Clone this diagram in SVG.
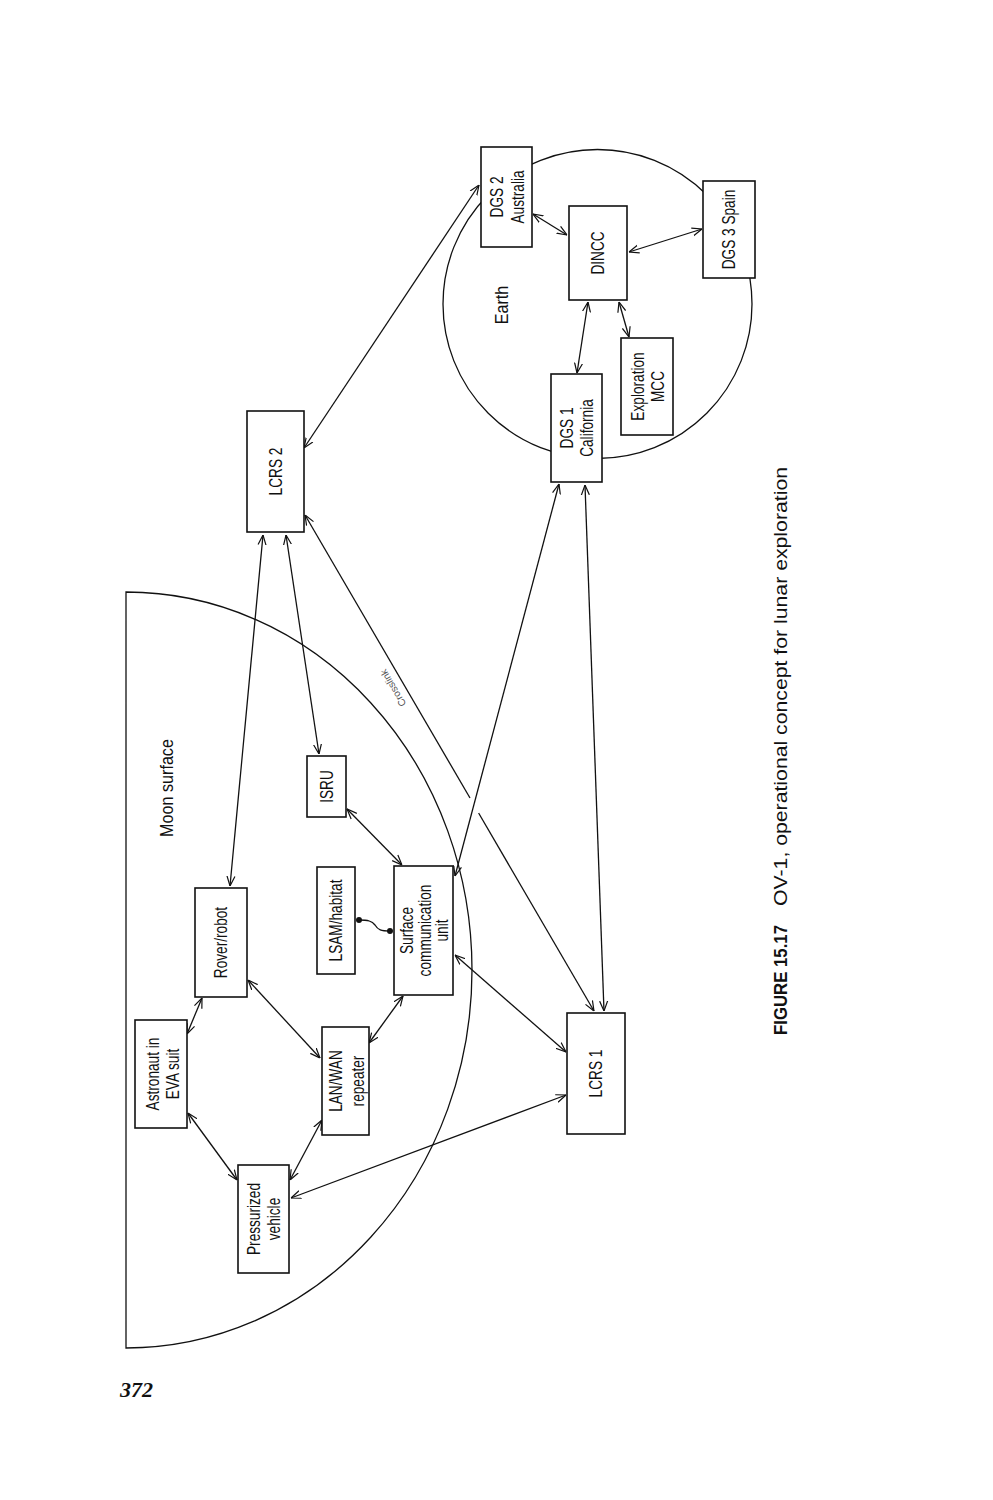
<svg xmlns="http://www.w3.org/2000/svg" width="993" height="1500" viewBox="0 0 993 1500">
<style>
.bx{fill:#fff;stroke:#111;stroke-width:1.6}
.ln{fill:none;stroke:#111;stroke-width:1.3}
.lb{font-family:"Liberation Sans",Arial,sans-serif;font-size:17.5px;fill:#111;text-anchor:middle;dominant-baseline:central}
.big{font-family:"Liberation Sans",Arial,sans-serif;font-size:19px;fill:#111;text-anchor:middle;dominant-baseline:central}
.cap{font-family:"Liberation Sans",Arial,sans-serif;font-size:19px;fill:#111}
.xl{font-family:"Liberation Sans",Arial,sans-serif;font-size:10px;fill:#555;stroke:none;text-anchor:middle;dominant-baseline:central}
</style>
<defs>
<marker id="ah" viewBox="0 0 10 10" refX="10" refY="5" markerWidth="10" markerHeight="10" markerUnits="userSpaceOnUse" orient="auto-start-reverse">
<path d="M0,1 L10,5 L0,9" fill="none" stroke="#111" stroke-width="1.2"/>
</marker>
</defs>
<rect width="993" height="1500" fill="#fff"/>

<g id="regions">
<circle cx="597.5" cy="304" r="154.5" class="ln"/>
<path d="M126,592 A346,378 0 0 1 126,1348 Z" class="ln" stroke-width="1.5"/>
<text class="big" transform="translate(502,305) rotate(-90) scale(0.85,1)">Earth</text>
<text class="big" transform="translate(167,788) rotate(-90) scale(0.85,1)">Moon surface</text>
</g>

<g id="connectors">
<g class="ln">
<path d="M479,185 L304,448" marker-start="url(#ah)" marker-end="url(#ah)"/>
<path d="M263,535 L230,886" marker-start="url(#ah)" marker-end="url(#ah)"/>
<path d="M286,535 L319,754" marker-start="url(#ah)" marker-end="url(#ah)"/>
<path d="M305,515 L470,798" marker-start="url(#ah)"/>
<path d="M478.6,813 L594,1011" marker-end="url(#ah)"/>
<path d="M585,485 L604,1011" marker-start="url(#ah)" marker-end="url(#ah)"/>
<path d="M559,484 L455,876" marker-start="url(#ah)" marker-end="url(#ah)"/>
<path d="M455,955 L566,1052" marker-start="url(#ah)" marker-end="url(#ah)"/>
<path d="M566,1095 L291,1198" marker-start="url(#ah)" marker-end="url(#ah)"/>
<path d="M347,809 L402,865" marker-start="url(#ah)" marker-end="url(#ah)"/>
<path d="M359,920 C368,920 372,921 375,925 C378,930 381,931 390,931"/>
<path d="M202,998 L187,1034" marker-start="url(#ah)" marker-end="url(#ah)"/>
<path d="M248,980 L320,1058" marker-start="url(#ah)" marker-end="url(#ah)"/>
<path d="M403,996 L369,1043" marker-start="url(#ah)" marker-end="url(#ah)"/>
<path d="M188,1113 L237,1180" marker-start="url(#ah)" marker-end="url(#ah)"/>
<path d="M322,1120 L290,1180" marker-start="url(#ah)" marker-end="url(#ah)"/>
<path d="M533,214 L567,235" marker-start="url(#ah)" marker-end="url(#ah)"/>
<path d="M629,252 L702,229" marker-start="url(#ah)" marker-end="url(#ah)"/>
<path d="M588,302 L577,373" marker-start="url(#ah)" marker-end="url(#ah)"/>
<path d="M619,302 L629,337" marker-start="url(#ah)" marker-end="url(#ah)"/>
</g>
<circle cx="359" cy="920" r="3" fill="#111"/>
<circle cx="390" cy="931" r="3" fill="#111"/>
<text class="xl" transform="translate(393,688) rotate(-120.3)">Crosslink</text>
</g>

<g id="dgs2">
<rect class="bx" x="481" y="147" width="51" height="100"/>
<text class="lb" transform="translate(507,197) rotate(-90) scale(0.78,1)"><tspan x="0" y="-10.5">DGS 2</tspan><tspan x="0" y="10.5">Australia</tspan></text>
</g>
<g id="dincc">
<rect class="bx" x="569" y="206" width="58" height="94"/>
<text class="lb" transform="translate(598,253) rotate(-90) scale(0.78,1)">DINCC</text>
</g>
<g id="dgs3">
<rect class="bx" x="703" y="181" width="52" height="97"/>
<text class="lb" transform="translate(729,229.5) rotate(-90) scale(0.78,1)">DGS 3 Spain</text>
</g>
<g id="mcc">
<rect class="bx" x="621" y="338" width="52" height="97"/>
<text class="lb" transform="translate(647,386.5) rotate(-90) scale(0.78,1)"><tspan x="0" y="-10">Exploration</tspan><tspan x="0" y="10">MCC</tspan></text>
</g>
<g id="dgs1">
<rect class="bx" x="551" y="374" width="51" height="108"/>
<text class="lb" transform="translate(576.5,428) rotate(-90) scale(0.78,1)"><tspan x="0" y="-10">DGS 1</tspan><tspan x="0" y="10">California</tspan></text>
</g>
<g id="lcrs2">
<rect class="bx" x="247" y="411" width="57" height="121"/>
<text class="lb" transform="translate(275.5,471.5) rotate(-90) scale(0.78,1)">LCRS 2</text>
</g>
<g id="isru">
<rect class="bx" x="307" y="756" width="39" height="61"/>
<text class="lb" transform="translate(326.5,786.5) rotate(-90) scale(0.78,1)">ISRU</text>
</g>
<g id="rover">
<rect class="bx" x="195" y="888" width="52" height="109"/>
<text class="lb" transform="translate(221,942.5) rotate(-90) scale(0.78,1)">Rover/robot</text>
</g>
<g id="lsam">
<rect class="bx" x="317" y="867" width="38" height="107"/>
<text class="lb" transform="translate(336,920.5) rotate(-90) scale(0.78,1)">LSAM/habitat</text>
</g>
<g id="scu">
<rect class="bx" x="394" y="866" width="59" height="129"/>
<text class="lb" transform="translate(424,930.5) rotate(-90) scale(0.78,1)"><tspan x="0" y="-17.5">Surface</tspan><tspan x="0" y="0">communication</tspan><tspan x="0" y="17.5">unit</tspan></text>
</g>
<g id="astronaut">
<rect class="bx" x="135" y="1020" width="52" height="108"/>
<text class="lb" transform="translate(162,1074) rotate(-90) scale(0.78,1)"><tspan x="0" y="-10">Astronaut in</tspan><tspan x="0" y="10">EVA suit</tspan></text>
</g>
<g id="lanwan">
<rect class="bx" x="322" y="1027" width="47" height="108"/>
<text class="lb" transform="translate(346,1081) rotate(-90) scale(0.78,1)"><tspan x="0" y="-11">LAN/WAN</tspan><tspan x="0" y="11">repeater</tspan></text>
</g>
<g id="pv">
<rect class="bx" x="238" y="1165" width="51" height="108"/>
<text class="lb" transform="translate(263.5,1219) rotate(-90) scale(0.78,1)"><tspan x="0" y="-10">Pressurized</tspan><tspan x="0" y="10">vehicle</tspan></text>
</g>
<g id="lcrs1">
<rect class="bx" x="567" y="1013" width="58" height="121"/>
<text class="lb" transform="translate(596,1073.5) rotate(-90) scale(0.78,1)">LCRS 1</text>
</g>

<g id="caption">
<text class="cap" transform="translate(787,1035) rotate(-90)" font-weight="bold" textLength="110" lengthAdjust="spacingAndGlyphs">FIGURE 15.17</text>
<text class="cap" transform="translate(787,906) rotate(-90)" textLength="439" lengthAdjust="spacingAndGlyphs">OV-1, operational concept for lunar exploration</text>
<text x="120" y="1397" font-family="Liberation Serif,Times New Roman,serif" font-size="22" font-weight="bold" font-style="italic" fill="#111">372</text>
</g>
</svg>
